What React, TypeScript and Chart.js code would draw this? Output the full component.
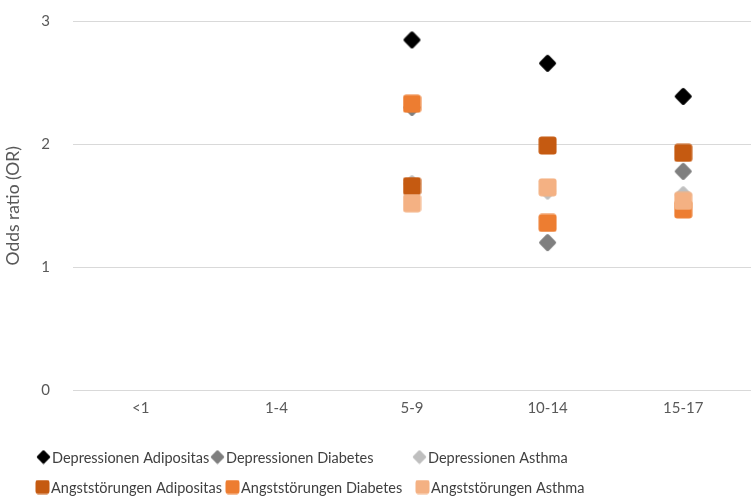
import React, { useEffect, useRef } from "react";
import { Chart, registerables } from "chart.js";

Chart.register(...registerables);

// ---- Data ----
const ageGroups = ["<1", "1-4", "5-9", "10-14", "15-17"];
const depressionenAdipositas = [null, null, 2.85, 2.66, 2.39];
const depressionenDiabetes = [null, null, 2.3, 1.2, 1.78];
const depressionenAsthma = [null, null, 1.68, 1.62, 1.59];
const angstAdipositas = [null, null, 1.66, 1.99, 1.93];
const angstDiabetes = [null, null, 2.33, 1.36, 1.47];
const angstAsthma = [null, null, 1.52, 1.65, 1.54];
const yTickValues = [0, 1, 2, 3];
const seriesLabels = [
  "Depressionen Adipositas",
  "Depressionen Diabetes",
  "Depressionen Asthma",
  "Angststörungen Adipositas",
  "Angststörungen Diabetes",
  "Angststörungen Asthma",
];
const seriesColors = ["#000000", "#7f7f7f", "#bfbfbf", "#c55a11", "#ed7d31", "#f4b183"];
const seriesShapes = ["diamond", "diamond", "diamond", "square", "square", "square"];

const FONT = "Lato, 'Open Sans', sans-serif";

// legend layout (pixel layout of the two legend rows)
const LEGEND_ROW_Y = [457, 487];
const LEGEND_ITEM_X = [
  [36, 210, 412],
  [35, 225, 415],
];

function makeMarker(shape: string, color: string, size: number): HTMLCanvasElement {
  const c = document.createElement("canvas");
  c.width = size;
  c.height = size;
  const ctx = c.getContext("2d")!;
  ctx.fillStyle = color;
  ctx.beginPath();
  if (shape === "square") {
    const r = size * 0.16;
    (ctx as any).roundRect(0.5, 0.5, size - 1, size - 1, r);
  } else {
    ctx.translate(size / 2, size / 2);
    ctx.rotate(Math.PI / 4);
    const s = (size - 0.5) / Math.SQRT2;
    (ctx as any).roundRect(-s / 2, -s / 2, s, s, size * 0.1);
  }
  ctx.fill();
  return c;
}

const legendPlugin = {
  id: "customLegend",
  afterDraw(chart: any) {
    const ctx: CanvasRenderingContext2D = chart.ctx;
    const ds = chart.data.datasets;
    ctx.save();
    ctx.font = `14.5px ${FONT}`;
    ctx.textBaseline = "middle";
    ctx.textAlign = "left";
    ds.forEach((d: any, i: number) => {
      const row = Math.floor(i / 3);
      const col = i % 3;
      const x = LEGEND_ITEM_X[row][col];
      const y = LEGEND_ROW_Y[row];
      const m = d.legendMarker as HTMLCanvasElement;
      ctx.drawImage(m, x, y - m.height / 2);
      ctx.fillStyle = "#404040";
      ctx.fillText(d.label, x + m.width + 1, y + 1);
    });
    ctx.restore();
  },
};

export default function App() {
  const ref = useRef<HTMLCanvasElement>(null);

  useEffect(() => {
    if (!ref.current) return;
    const seriesData = [
      depressionenAdipositas,
      depressionenDiabetes,
      depressionenAsthma,
      angstAdipositas,
      angstDiabetes,
      angstAsthma,
    ];
    const datasets = seriesData.map((data, i) => ({
      type: "line" as const,
      label: seriesLabels[i],
      data,
      showLine: false,
      order: seriesData.length - i,
      pointStyle: makeMarker(seriesShapes[i], seriesColors[i], 19),
      legendMarker: makeMarker(seriesShapes[i], seriesColors[i], 15),
      backgroundColor: seriesColors[i],
      borderColor: seriesColors[i],
      pointRadius: 9,
      pointHoverRadius: 9,
    }));

    const chart = new Chart(ref.current, {
      type: "line",
      data: { labels: ageGroups, datasets: datasets as any },
      options: {
        responsive: false,
        animation: false,
        devicePixelRatio: 1,
        layout: { padding: { top: 21.5, bottom: 74, left: 0, right: 0 } },
        plugins: {
          legend: { display: false },
          tooltip: { enabled: false },
        },
        scales: {
          x: {
            offset: true,
            grid: { display: false, drawTicks: false },
            border: { display: false },
            ticks: {
              color: "#595959",
              font: { family: FONT, size: 15 },
              padding: 9,
              maxRotation: 0,
            },
          },
          y: {
            min: 0,
            max: 3,
            afterFit: (s: any) => {
              s.width = 73;
            },
            afterBuildTicks: (s: any) => {
              s.ticks = yTickValues.map((v) => ({ value: v }));
            },
            grid: {
              color: "#d9d9d9",
              drawTicks: true,
              tickLength: 20,
              tickColor: "rgba(0,0,0,0)",
              lineWidth: 1,
            },
            border: { display: false },
            ticks: {
              color: "#595959",
              font: { family: FONT, size: 15 },
              padding: 3,
            },
            title: {
              display: true,
              text: "Odds ratio (OR)",
              color: "#595959",
              font: { family: FONT, size: 17.5 },
              padding: { top: 3, bottom: 0 },
            },
          },
        },
      },
      plugins: [legendPlugin],
    });
    return () => chart.destroy();
  }, []);

  return (
    <div style={{ position: "fixed", left: 0, top: 0, width: 761, height: 500, background: "#fff" }}>
      <canvas ref={ref} width={761} height={500} style={{ width: 761, height: 500, display: "block" }} />
    </div>
  );
}
